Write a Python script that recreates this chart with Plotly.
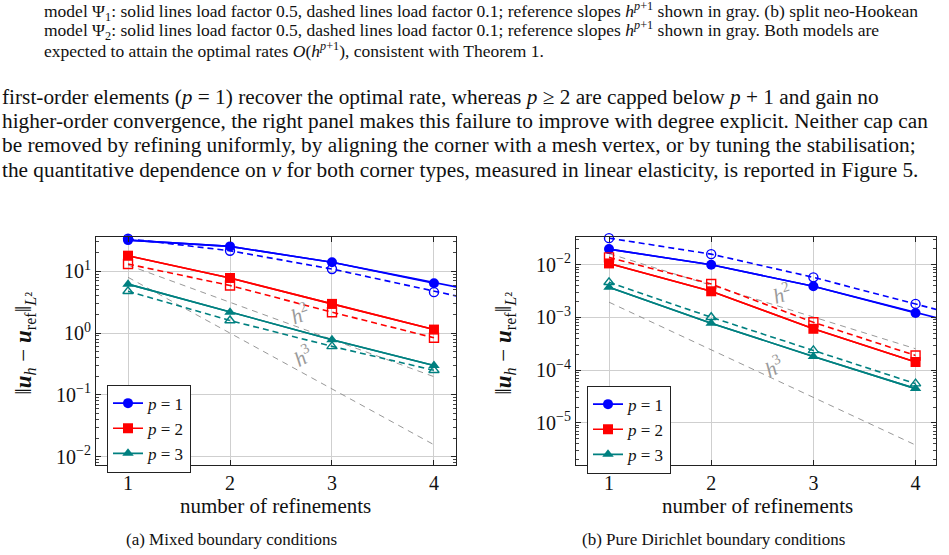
import plotly.graph_objects as go

W, H = 949, 555

refinements = [1, 2, 3, 4]
refinements_ext = [1, 2, 3, 4, 5]

# (a) Mixed boundary conditions
a_p1_solid = [32.0, 25.3, 14.0, 6.4, 3.1]
a_p1_dash = [33.6, 21.5, 10.9, 4.6, 2.1]
a_p2_solid = [17.9, 7.8, 2.97, 1.14]
a_p2_dash = [13.1, 5.9, 2.18, 0.84]
a_p3_solid = [6.2, 2.18, 0.78, 0.30]
a_p3_dash = [4.75, 1.6, 0.61, 0.25]
a_ref_h2 = [12.6, 3.15, 0.79, 0.197]
a_ref_h3 = [8.0, 1.0, 0.125, 0.0156]

# (b) Pure Dirichlet boundary conditions
b_p1_solid = [0.0198, 0.0100, 0.0039, 0.00122, 0.00040]
b_p1_dash = [0.032, 0.0159, 0.00577, 0.00181, 0.00056]
b_p2_solid = [0.0106, 0.00314, 0.00061, 0.000143]
b_p2_dash = [0.0138, 0.00432, 0.00081, 0.00019]
b_p3_solid = [0.00373, 0.00078, 0.000182, 4.47e-5]
b_p3_dash = [0.00465, 0.00101, 0.000237, 5.56e-5]
b_ref_h2 = [0.0163, 0.00408, 0.00102, 0.000255]
b_ref_h3 = [0.00195, 0.000244, 3.05e-5, 3.8e-6]

a_yticks = [10, 1, 0.1, 0.01]
a_yticktext = ["10<sup>1</sup>", "10<sup>0</sup>", "10<sup>−1</sup>", "10<sup>−2</sup>"]
b_yticks = [1e-2, 1e-3, 1e-4, 1e-5]
b_yticktext = ["10<sup>−2</sup>", "10<sup>−3</sup>", "10<sup>−4</sup>", "10<sup>−5</sup>"]
legend_labels = ["<i>p</i> = 1", "<i>p</i> = 2", "<i>p</i> = 3"]

BLUE, RED, TEAL, GRAY = "#0000ff", "#ff0000", "#008080", "#8c8c8c"
SERIF = "Liberation Serif"

fig = go.Figure()


def add_panel(xa, ya, leg, series, refs):
    colors = [BLUE, RED, TEAL]
    symbols = ["circle", "square", "triangle-up"]
    for r in refs:
        fig.add_trace(go.Scatter(x=refinements, y=r, mode="lines", xaxis=xa, yaxis=ya,
                                 line=dict(color=GRAY, width=0.9, dash="6px,5px"),
                                 showlegend=False, hoverinfo="skip"))
    for i, (solid, dash) in enumerate(series):
        c = colors[i]
        # lines (clipped so the extension ends at the frame)
        for vals, dsh in ((solid, "solid"), (dash, "6px,4px")):
            xs = refinements_ext[:len(vals)]
            fig.add_trace(go.Scatter(x=xs, y=vals, mode="lines", xaxis=xa, yaxis=ya,
                                     line=dict(color=c, width=1.6, dash=dsh),
                                     showlegend=False, hoverinfo="skip"))
        # markers (not clipped)
        fig.add_trace(go.Scatter(x=refinements, y=dash[:4], mode="markers", xaxis=xa, yaxis=ya,
                                 marker=dict(symbol=symbols[i] + "-open", size=9, color=c,
                                             line=dict(width=1.4, color=c)),
                                 cliponaxis=False, showlegend=False, hoverinfo="skip"))
        fig.add_trace(go.Scatter(x=refinements, y=solid[:4], mode="lines+markers", xaxis=xa, yaxis=ya,
                                 line=dict(color=c, width=1.6),
                                 marker=dict(symbol=symbols[i], size=10, color=c),
                                 cliponaxis=False, name=legend_labels[i], legend=leg,
                                 showlegend=True, hoverinfo="skip"))


add_panel("x", "y", "legend",
          [(a_p1_solid, a_p1_dash), (a_p2_solid, a_p2_dash), (a_p3_solid, a_p3_dash)],
          [a_ref_h2, a_ref_h3])
add_panel("x2", "y2", "legend2",
          [(b_p1_solid, b_p1_dash), (b_p2_solid, b_p2_dash), (b_p3_solid, b_p3_dash)],
          [b_ref_h2, b_ref_h3])


def px_x(p):
    return p / W


def px_y(p):
    return 1 - p / H


def minor_vals(lo, hi):
    out = []
    for k in range(lo, hi + 1):
        for m in range(2, 10):
            out.append(m * 10 ** k)
    return out


axis_common = dict(showline=True, linecolor="#222", linewidth=1.1, mirror="allticks",
                   ticks="inside", ticklen=5, tickcolor="#222", showgrid=True,
                   gridcolor="#cfcfcf", gridwidth=1, zeroline=False,
                   tickfont=dict(family=SERIF, size=20, color="#111"))

TOP, BOT = 238, 467

fig.update_layout(
    width=W, height=H, margin=dict(l=0, r=0, t=0, b=0),
    paper_bgcolor="white", plot_bgcolor="white",
    xaxis=dict(domain=[px_x(96), px_x(456)], range=[0.686, 4.216], anchor="y",
               tickvals=refinements, ticktext=[str(v) for v in refinements], **axis_common),
    yaxis=dict(domain=[px_y(BOT), px_y(TOP)], type="log", range=[-2.140, 1.553], anchor="x",
               tickvals=a_yticks, ticktext=a_yticktext,
               minor=dict(tickvals=minor_vals(-3, 1), ticks="inside", ticklen=3,
                          tickcolor="#444", showgrid=False),
               **axis_common),
    xaxis2=dict(domain=[px_x(576), px_x(936)], range=[0.677, 4.2], anchor="y2",
                tickvals=refinements, ticktext=[str(v) for v in refinements], **axis_common),
    yaxis2=dict(domain=[px_y(BOT), px_y(TOP)], type="log", range=[-5.805, -1.476], anchor="x2",
                tickvals=b_yticks, ticktext=b_yticktext,
                minor=dict(tickvals=minor_vals(-6, -2), ticks="inside", ticklen=3,
                           tickcolor="#444", showgrid=False),
                **axis_common),
    legend=dict(x=px_x(107), y=px_y(386), xanchor="left", yanchor="top",
                bordercolor="#222", borderwidth=1, bgcolor="white",
                font=dict(family=SERIF, size=17, color="#111"), tracegroupgap=0),
    legend2=dict(x=px_x(587), y=px_y(387), xanchor="left", yanchor="top",
                 bordercolor="#222", borderwidth=1, bgcolor="white",
                 font=dict(family=SERIF, size=17, color="#111"), tracegroupgap=0),
)

annotations = []


def text_at(x, y, s, size, anchor="left", angle=0, color="#111"):
    annotations.append(dict(xref="paper", yref="paper", x=px_x(x), y=px_y(y), text=s,
                            showarrow=False, xanchor=anchor, yanchor="middle", textangle=angle,
                            font=dict(family=SERIF, size=size, color=color)))


caption_lines = [
    "model Ψ<sub>1</sub>: solid lines load factor 0.5, dashed lines load factor 0.1; reference slopes "
    "<i>h</i><sup><i>p</i>+1</sup> shown in gray. (b) split neo-Hookean",
    "model Ψ<sub>2</sub>: solid lines load factor 0.5, dashed lines load factor 0.1; reference slopes "
    "<i>h</i><sup><i>p</i>+1</sup> shown in gray. Both models are",
    "expected to attain the optimal rates <i>O</i>(<i>h</i><sup><i>p</i>+1</sup>), consistent with Theorem 1.",
]
for i, s in enumerate(caption_lines):
    text_at(42, 12 + 19 * i, s, 17.5)

body_lines = [
    "first-order elements (<i>p</i> = 1) recover the optimal rate, whereas <i>p</i> ≥ 2 are capped below "
    "<i>p</i> + 1 and gain no",
    "higher-order convergence, the right panel makes this failure to improve with degree explicit. Neither cap can",
    "be removed by refining uniformly, by aligning the corner with a mesh vertex, or by tuning the stabilisation;",
    "the quantitative dependence on <i>ν</i> for both corner types, measured in linear elasticity, is reported in Figure 5.",
]
for i, s in enumerate(body_lines):
    text_at(0, 97 + 24.5 * i, s, 21.3)

ytitle = "‖<b><i>u</i></b><sub><i>h</i></sub> − <b><i>u</i></b><sub>ref</sub>‖<sub><i>L</i>²</sub>"
text_at(25, 345, ytitle, 23, anchor="center", angle=-90)
text_at(505, 345, ytitle, 23, anchor="center", angle=-90)
text_at(275, 508, "number of refinements", 21, anchor="center")
text_at(757, 508, "number of refinements", 21, anchor="center")
text_at(231, 541, "(a) Mixed boundary conditions", 17, anchor="center")
text_at(713, 541, "(b) Pure Dirichlet boundary conditions", 17, anchor="center")

# slope labels inside the panels
for xr, yr, x, ly, s, ang in [("x", "y", 2.69, 0.311, "<i>h</i><sup>2</sup>", -20),
                              ("x", "y", 2.72, -0.366, "<i>h</i><sup>3</sup>", -28),
                              ("x2", "y2", 2.69, -2.554, "<i>h</i><sup>2</sup>", -17),
                              ("x2", "y2", 2.61, -3.934, "<i>h</i><sup>3</sup>", -25)]:
    annotations.append(dict(xref=xr, yref=yr, x=x, y=ly, text=s, showarrow=False,
                            textangle=ang, font=dict(family=SERIF, size=21, color="#9a9a9a")))

fig.update_layout(annotations=annotations)
fig.write_html("out.html")
